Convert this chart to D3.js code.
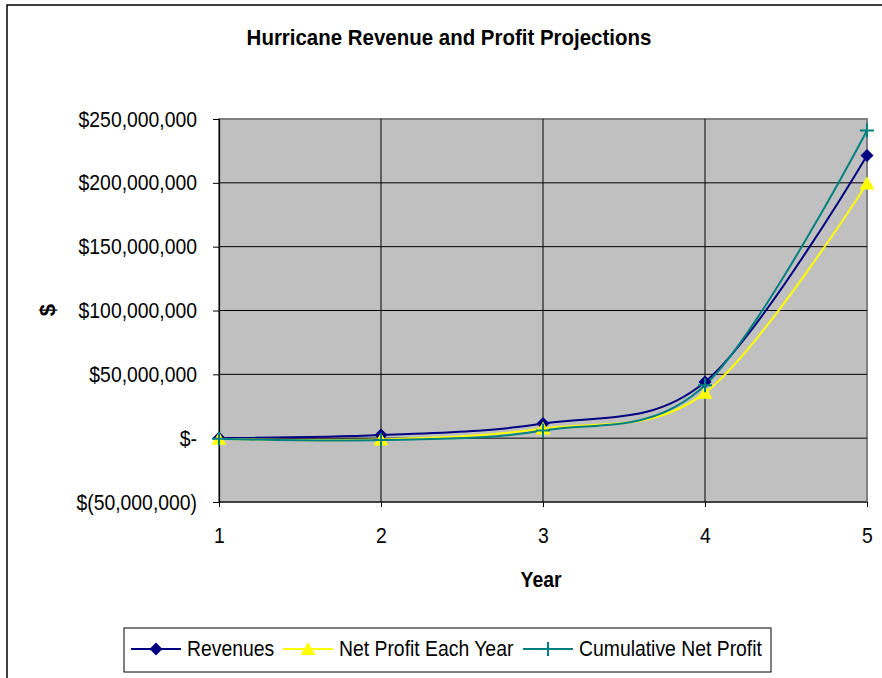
<!DOCTYPE html>
<html>
<head>
<script src="https://d3js.org/d3.v7.min.js"></script>
<style>
  body { margin: 0; background: #fff; }
  text { font-family: "Liberation Sans", Arial, sans-serif; }
</style>
</head>
<body>
<div id="vis"></div>
<script>
// chart values (dollars)
const years = [1, 2, 3, 4, 5];
const revenues = [200000, 2500000, 11500000, 44000000, 221500000];
const netProfit = [-500000, -1000000, 7500000, 35500000, 199500000];
const cumulativeProfit = [-500000, -1500000, 6000000, 41500000, 241000000];
const yTicks = [-50000000, 0, 50000000, 100000000, 150000000, 200000000, 250000000];
const seriesNames = ["Revenues", "Net Profit Each Year", "Cumulative Net Profit"];

const width = 882, height = 678;
const plot = { left: 219, right: 867, top: 119, bottom: 502 };
const squeeze = 0.88; // the original font is tall and narrow

const svg = d3.select('#vis').append('svg')
  .attr('width', width)
  .attr('height', height);

// narrow a text to look like the source font
function narrow(sel, f) {
  sel.each(function() {
    const w = this.getComputedTextLength();
    d3.select(this)
      .attr('textLength', w * (f || squeeze))
      .attr('lengthAdjust', 'spacingAndGlyphs');
  });
}

// outer chart frame, runs off the right and bottom edge
svg.append('rect')
  .attr('x', 7).attr('y', 5)
  .attr('width', 900).attr('height', 700)
  .attr('fill', '#fff')
  .attr('stroke', '#000')
  .attr('stroke-width', 1.5);

const x = d3.scaleLinear().domain([1, 5]).range([plot.left, plot.right]);
const y = d3.scaleLinear().domain([-50000000, 250000000]).range([plot.bottom, plot.top]);

// plot area
svg.append('rect')
  .attr('x', plot.left).attr('y', plot.top)
  .attr('width', plot.right - plot.left)
  .attr('height', plot.bottom - plot.top)
  .attr('fill', '#C0C0C0')
  .attr('stroke', '#808080')
  .attr('stroke-width', 2);

// gridlines
svg.append('g').selectAll('line')
  .data(yTicks.filter(d => d > -50000000 && d < 250000000))
  .join('line')
  .attr('x1', plot.left).attr('x2', plot.right)
  .attr('y1', d => y(d)).attr('y2', d => y(d))
  .attr('stroke', '#000').attr('stroke-width', 1);

svg.append('g').selectAll('line')
  .data(years.slice(1, -1))
  .join('line')
  .attr('x1', d => x(d)).attr('x2', d => x(d))
  .attr('y1', plot.top).attr('y2', plot.bottom)
  .attr('stroke', '#000').attr('stroke-width', 1);

// money format like Excel accounting
function money(v) {
  if (v === 0) return '$-';
  const s = d3.format(',')(Math.abs(v));
  return v < 0 ? '$(' + s + ')' : '$' + s;
}

// axes
const yAxis = d3.axisLeft(y).tickValues(yTicks).tickFormat(money).tickSize(6).tickPadding(16);
const gy = svg.append('g').attr('transform', `translate(${plot.left},0)`).call(yAxis);
const xAxis = d3.axisBottom(x).tickValues(years).tickFormat(d3.format('d')).tickSize(5).tickPadding(20);
const gx = svg.append('g').attr('transform', `translate(0,${plot.bottom})`).call(xAxis);

[gy, gx].forEach(g => {
  g.select('.domain').attr('stroke', '#000').attr('stroke-width', 1.2);
  g.selectAll('.tick line').attr('stroke', '#000');
  g.selectAll('.tick text')
    .attr('fill', '#000')
    .style('font-size', '22px')
    .style('font-family', '"Liberation Sans", Arial, sans-serif')
    .call(narrow);
});
gx.select('.domain').attr('d', `M${plot.left},0H${plot.right}`);

// titles
svg.append('text')
  .attr('x', 449).attr('y', 45)
  .attr('text-anchor', 'middle')
  .style('font-size', '22px').style('font-weight', 'bold')
  .text('Hurricane Revenue and Profit Projections')
  .call(narrow, 0.93);

svg.append('text')
  .attr('x', 541).attr('y', 587)
  .attr('text-anchor', 'middle')
  .style('font-size', '22px').style('font-weight', 'bold')
  .text('Year')
  .call(narrow);

svg.append('text')
  .attr('transform', 'translate(55,310) rotate(-90)')
  .attr('text-anchor', 'middle')
  .style('font-size', '22px').style('font-weight', 'bold')
  .text('$');

// series
const series = [
  { name: seriesNames[0], values: revenues, color: '#000080', marker: 'diamond' },
  { name: seriesNames[1], values: netProfit, color: '#FFFF00', marker: 'triangle' },
  { name: seriesNames[2], values: cumulativeProfit, color: '#008080', marker: 'plus' }
];

const line = d3.line()
  .x((d, i) => x(years[i]))
  .y(d => y(d))
  .curve(d3.curveCatmullRom.alpha(0));

function drawMarker(g, type, color) {
  if (type === 'diamond') {
    g.append('path').attr('d', 'M0,-6.5L6.5,0L0,6.5L-6.5,0Z').attr('fill', color);
  } else if (type === 'triangle') {
    g.append('path').attr('d', 'M0,-7L7.5,6L-7.5,6Z').attr('fill', color);
  } else {
    g.append('path').attr('d', 'M-7,0H7M0,-7V7')
      .attr('stroke', color).attr('stroke-width', 2).attr('fill', 'none');
  }
}

series.forEach(s => {
  svg.append('path')
    .attr('d', line(s.values))
    .attr('fill', 'none')
    .attr('stroke', s.color)
    .attr('stroke-width', 2);
});

series.forEach(s => {
  s.values.forEach((v, i) => {
    const g = svg.append('g').attr('transform', `translate(${x(years[i])},${y(v)})`);
    drawMarker(g, s.marker, s.color);
  });
});

// legend
const legend = svg.append('g');
legend.append('rect')
  .attr('x', 124).attr('y', 628)
  .attr('width', 647).attr('height', 44)
  .attr('fill', '#fff')
  .attr('stroke', '#000')
  .attr('stroke-width', 1);

const legendX = [131, 283, 523];
series.forEach((s, i) => {
  const lg = legend.append('g').attr('transform', `translate(${legendX[i]},649)`);
  lg.append('line')
    .attr('x1', 0).attr('x2', 50)
    .attr('stroke', s.color).attr('stroke-width', 2);
  drawMarker(lg.append('g').attr('transform', 'translate(25,0)'), s.marker, s.color);
  lg.append('text')
    .attr('x', 56).attr('y', 7)
    .style('font-size', '22px')
    .text(s.name)
    .call(narrow);
});
</script>
</body>
</html>
